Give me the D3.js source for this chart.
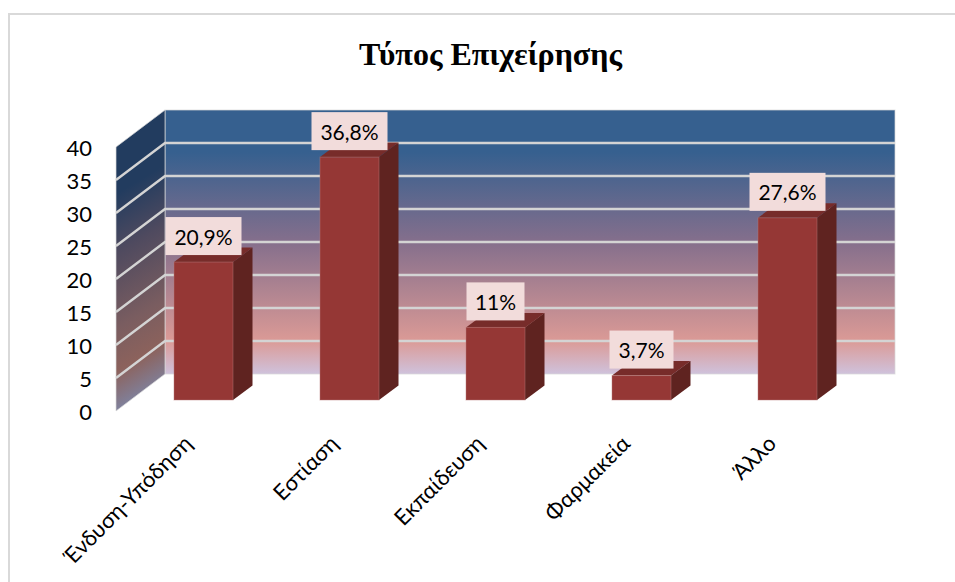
<!DOCTYPE html>
<html><head><meta charset="utf-8">
<script src="https://cdn.jsdelivr.net/npm/d3@7"></script>
<style>html,body{margin:0;padding:0;background:#fff}svg{display:block}</style></head>
<body><svg id="c" width="955" height="582"></svg>
<script>
const categories = ["Ένδυση-Υπόδηση","Εστίαση","Εκπαίδευση","Φαρμακεία","Άλλο"];
const values = [20.9,36.8,11,3.7,27.6];
const valueLabels = ["20,9%","36,8%","11%","3,7%","27,6%"];
const yTicks = [0,5,10,15,20,25,30,35,40];
const titleText = "Τύπος Επιχείρησης";
const textFont = "Lato, 'Noto Sans'";

const svg = d3.select("#c");
const defs = svg.append("defs");
const wallStops = [[0,"#36608f"],[0.16,"#36608f"],[0.5,"#856f8c"],[0.875,"#db9a96"],[1,"#cfc2dc"]];
const back = defs.append("linearGradient").attr("id","back").attr("x1",0).attr("x2",0).attr("y1",0).attr("y2",1);
wallStops.forEach(s=>back.append("stop").attr("offset",s[0]).attr("stop-color",s[1]));
const sideStops = [[0,"#223c5f"],[0.2,"#223c5f"],[0.42,"#4f4a5f"],[0.7,"#7a5d60"],[0.86,"#8c625c"],[1,"#80809a"]];
const side = defs.append("linearGradient").attr("id","side").attr("gradientUnits","userSpaceOnUse")
  .attr("x1",112.5).attr("y1",142).attr("x2",230.5).attr("y2",342);
sideStops.forEach(s=>side.append("stop").attr("offset",s[0]).attr("stop-color",s[1]));

svg.append("path").attr("d","M9,590V14H960").attr("fill","#fff").attr("stroke","#d9d9d9").attr("stroke-width",2);

const y = d3.scaleLinear().domain([0,40]).range([374,110]);
const wallL=165, wallR=895, dx=49, dy=37;
const x = d3.scaleBand().domain(categories).range([130.5,860.5]).paddingInner(87/146).paddingOuter(87/292);
const barDx=19.5, barDy=14.5, floorShift=26;

svg.append("rect").attr("x",wallL).attr("y",y(40)).attr("width",wallR-wallL).attr("height",y(0)-y(40)).attr("fill","url(#back)").attr("stroke","#d9d9d9").attr("stroke-opacity",.7);
svg.append("path").attr("d",d3.line()([[wallL,y(40)],[wallL,y(0)],[wallL-dx,y(0)+dy],[wallL-dx,y(40)+dy]])+"Z").attr("fill","url(#side)").attr("stroke","#d9d9d9").attr("stroke-opacity",.7);

yTicks.slice(1,-1).forEach(t=>{
  svg.append("path").attr("d",d3.line()([[wallL-dx,y(t)+dy],[wallL,y(t)],[wallR,y(t)]])).attr("fill","none").attr("stroke","#d4d4d4").attr("stroke-width",2.4);
});
svg.selectAll(".yt").data(yTicks).join("text").attr("class","yt")
  .attr("x",92).attr("y",d=>y(d)+dy).attr("text-anchor","end").attr("dominant-baseline","central")
  .attr("font-family",textFont).attr("font-size",22).attr("fill","#000").text(d=>d);

const yb = v => y(v)+floorShift;
const g = svg.selectAll(".bar").data(categories.map((c,i)=>({c,v:values[i],l:valueLabels[i]}))).join("g").attr("class","bar");
g.append("path").attr("d",d=>{const a=x(d.c),w=x.bandwidth(),t=yb(d.v);return d3.line()([[a,t],[a+barDx,t-barDy],[a+w+barDx,t-barDy],[a+w,t]])+"Z"}).attr("fill","#772c2a");
g.append("path").attr("d",d=>{const a=x(d.c)+x.bandwidth(),t=yb(d.v),b=yb(0);return d3.line()([[a,t],[a+barDx,t-barDy],[a+barDx,b-barDy],[a,b]])+"Z"}).attr("fill","#5f2320");
g.append("rect").attr("x",d=>x(d.c)).attr("y",d=>yb(d.v)).attr("width",x.bandwidth()).attr("height",d=>yb(0)-yb(d.v)).attr("fill","#953735").attr("stroke","#b97a78").attr("stroke-opacity",.45);

const labelW = d=> d.l.length===5?76:(d.l.length===4?64:58);
g.append("rect").attr("x",d=>x(d.c)+x.bandwidth()/2-labelW(d)/2).attr("y",d=>yb(d.v)-45).attr("width",labelW).attr("height",38).attr("fill","#f2dcdb");
g.append("text").attr("x",d=>x(d.c)+x.bandwidth()/2).attr("y",d=>yb(d.v)-26).attr("text-anchor","middle").attr("dominant-baseline","central")
  .attr("font-family",textFont).attr("font-size",21).attr("fill","#000").text(d=>d.l);

svg.selectAll(".xl").data(categories).join("text").attr("class","xl")
  .attr("transform",d=>`translate(${x(d)+x.bandwidth()/2-10},${445}) rotate(-45)`)
  .attr("text-anchor","end").attr("font-family",textFont).attr("font-size",22).attr("fill","#000").text(d=>d);

svg.append("text").attr("x",490.5).attr("y",65).attr("text-anchor","middle").attr("font-family","Liberation Serif").attr("font-weight","bold").attr("font-size",32).attr("fill","#000").text(titleText);
</script></body></html>
